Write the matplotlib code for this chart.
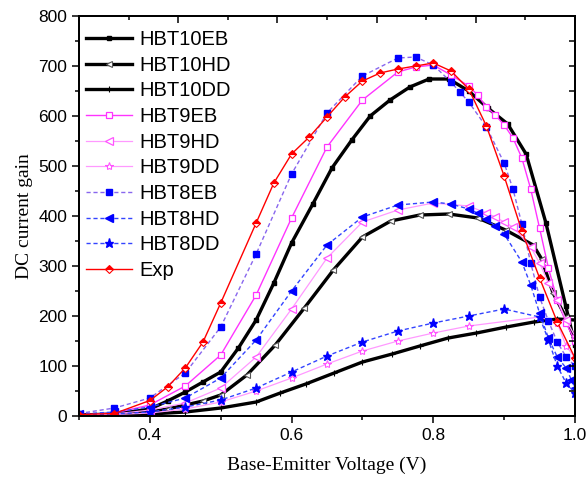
import matplotlib.pyplot as plt
from matplotlib.ticker import MultipleLocator, FixedLocator, NullFormatter

# data
v_10eb = [0.3, 0.35, 0.4, 0.425, 0.45, 0.475, 0.5, 0.525, 0.55, 0.575, 0.6, 0.63, 0.657, 0.685,
          0.711, 0.739, 0.767, 0.794, 0.822, 0.85, 0.877, 0.905, 0.931, 0.959, 0.987, 1.0]
g_10eb = [2, 4, 14, 30, 48, 68, 88, 136, 192, 266, 346, 424, 496, 552,
          600, 632, 658, 674, 674, 650, 616, 584, 524, 386, 220, 142]

v_10hd = [0.3, 0.35, 0.4, 0.425, 0.45, 0.475, 0.5, 0.537, 0.577, 0.618, 0.659, 0.7, 0.74,
          0.781, 0.822, 0.863, 0.902, 0.941, 0.953, 0.969, 0.987, 1.0]
g_10hd = [1, 3, 8, 14, 22, 30, 42, 82, 142, 216, 292, 358, 390,
          402, 404, 396, 372, 342, 314, 246, 198, 150]

v_10dd = [0.3, 0.35, 0.4, 0.45, 0.5, 0.55, 0.584, 0.62, 0.66, 0.7, 0.742, 0.781, 0.821,
          0.861, 0.903, 0.942, 0.975, 1.0]
g_10dd = [1, 2, 4, 8, 16, 28, 46, 64, 86, 108, 124, 140, 156, 166, 178, 188, 194, 192]

v_9eb = [0.3, 0.35, 0.4, 0.45, 0.5, 0.55, 0.6, 0.65, 0.7, 0.75, 0.775, 0.8, 0.825, 0.85, 0.8625,
         0.875, 0.8875, 0.9, 0.9125, 0.925, 0.9375, 0.95, 0.9625, 0.975, 0.9875, 1.0]
g_9eb = [2, 6, 22, 60, 122, 242, 396, 538, 632, 688, 698, 702, 682, 660, 642,
         618, 602, 582, 556, 516, 454, 376, 296, 232, 186, 150]

v_9hd = [0.3, 0.35, 0.4, 0.45, 0.5, 0.55, 0.6, 0.65, 0.7, 0.75, 0.8, 0.85, 0.875, 0.8875,
         0.9, 0.9125, 0.9375, 0.95, 0.9625, 0.975, 0.9875, 1.0]
g_9hd = [2, 4, 12, 26, 56, 118, 214, 316, 388, 412, 426, 420, 406, 398,
         388, 378, 338, 306, 266, 232, 192, 160]

v_9dd = [0.3, 0.35, 0.4, 0.45, 0.5, 0.55, 0.6, 0.65, 0.7, 0.75, 0.8, 0.85, 0.95, 0.975, 0.9875, 1.0]
g_9dd = [1, 3, 6, 14, 28, 50, 76, 104, 130, 150, 166, 180, 198, 186, 140, 116]

v_8eb = [0.3, 0.35, 0.4, 0.45, 0.5, 0.55, 0.6, 0.65, 0.7, 0.75, 0.775, 0.8, 0.825, 0.8375, 0.85,
         0.875, 0.9, 0.9125, 0.925, 0.9375, 0.95, 0.9625, 0.975, 0.9875, 1.0]
g_8eb = [5, 16, 36, 86, 178, 324, 484, 606, 680, 716, 718, 702, 668, 648, 628,
         578, 506, 454, 384, 306, 238, 190, 148, 118, 100]

v_8hd = [0.3, 0.35, 0.4, 0.45, 0.5, 0.55, 0.6, 0.65, 0.7, 0.75, 0.8, 0.825, 0.85, 0.8625, 0.875,
         0.8875, 0.9, 0.925, 0.9375, 0.95, 0.9625, 0.975, 0.9875, 0.995, 1.0]
g_8hd = [4, 8, 18, 36, 76, 152, 250, 342, 398, 422, 428, 424, 414, 406, 394,
         380, 364, 308, 262, 206, 156, 118, 96, 72, 56]

v_8dd = [0.3, 0.35, 0.4, 0.45, 0.5, 0.55, 0.6, 0.65, 0.7, 0.75, 0.8, 0.85, 0.9, 0.95, 0.9625,
         0.975, 0.9875, 1.0]
g_8dd = [2, 4, 8, 18, 32, 56, 88, 120, 148, 170, 186, 200, 214, 198, 152, 100, 66, 46]

v_exp = [0.3, 0.35, 0.4, 0.425, 0.45, 0.475, 0.5, 0.55, 0.575, 0.6, 0.625, 0.65, 0.675, 0.7,
         0.725, 0.75, 0.775, 0.8, 0.825, 0.85, 0.875, 0.9, 0.925, 0.95, 0.975, 1.0]
g_exp = [3, 5, 31, 58, 96, 148, 226, 386, 466, 524, 558, 598, 638, 670,
         686, 694, 700, 706, 690, 654, 580, 480, 370, 276, 188, 116]

fig = plt.figure(figsize=(5.86, 4.82), dpi=100)
ax = fig.add_axes([0.1348, 0.1369, 0.8464, 0.8299])

blk = dict(color='black', lw=2.4)
ax.plot(v_10eb, g_10eb, marker='s', ms=3, mfc='black', mec='black', label='HBT10EB', **blk)
ax.plot(v_10hd, g_10hd, marker='<', ms=4.5, mfc='white', mec='#555555', mew=0.8, label='HBT10HD', **blk)
ax.plot(v_10dd, g_10dd, marker='+', ms=4, mec='black', mew=0.8, label='HBT10DD', **blk)

ax.plot(v_9eb, g_9eb, color='#ff33ff', lw=1.0, marker='s', ms=5, mfc='white', mec='#ff33ff',
        mew=0.9, label='HBT9EB')
ax.plot(v_9hd, g_9hd, color='#ff99ff', lw=0.9, marker='<', ms=6, mfc='white', mec='#ff55ff',
        mew=0.9, label='HBT9HD')
ax.plot(v_9dd, g_9dd, color='#ff99ff', lw=0.9, marker='*', ms=6, mfc='white', mec='#ff55ff',
        mew=0.8, label='HBT9DD')

ax.plot(v_8eb, g_8eb, color='#8866ee', lw=1.0, ls=(0, (3, 2)), marker='s', ms=5, mfc='#0000ff',
        mec='#0000ff', label='HBT8EB')
ax.plot(v_8hd, g_8hd, color='#3344ff', lw=1.0, ls=(0, (3, 2)), marker='<', ms=6, mfc='#0000ff',
        mec='#0000ff', label='HBT8HD')
ax.plot(v_8dd, g_8dd, color='#3344ff', lw=1.0, ls=(0, (3, 2)), marker='*', ms=6.5, mfc='#0000ff',
        mec='#0000ff', label='HBT8DD')

ax.plot(v_exp, g_exp, color='#ff0000', lw=1.0, marker='D', ms=4, fillstyle='top', mfc='#ff0000',
        mfcalt='white', mec='#ff0000', mew=0.8, label='Exp')

ax.set_xlim(0.3, 1.0)
ax.set_ylim(0, 800)
ax.xaxis.set_major_locator(FixedLocator([0.4, 0.6, 0.8, 1.0]))
ax.xaxis.set_minor_locator(FixedLocator([0.3, 0.5, 0.7, 0.9]))
ax.yaxis.set_major_locator(MultipleLocator(100))
ax.yaxis.set_minor_locator(MultipleLocator(50))
ax.tick_params(which='both', direction='out', width=1.1, labelsize=12.5)
ax.tick_params(which='major', length=5)
ax.tick_params(which='minor', length=3)
for lab in ax.get_xticklabels() + ax.get_yticklabels():
    lab.set_family('Liberation Sans')
ax.xaxis.set_major_formatter(plt.FuncFormatter(lambda x, p: '%.1f' % x))

# mirrored top / right frame ticks
top = ax.twiny()
top.set_xlim(0, 1)
top.xaxis.set_major_locator(FixedLocator([0.2, 0.4, 0.6, 0.8]))
top.xaxis.set_minor_locator(FixedLocator([0.1, 0.3, 0.5, 0.7, 0.9]))
top.xaxis.set_major_formatter(NullFormatter())
top.tick_params(which='both', direction='in', width=1.1)
top.tick_params(which='major', length=5)
top.tick_params(which='minor', length=3)
right = ax.twinx()
right.set_ylim(0, 800)
right.yaxis.set_major_locator(MultipleLocator(50))
right.yaxis.set_major_formatter(NullFormatter())
right.tick_params(direction='in', width=1.1, length=4)

for a in (ax, top, right):
    for s in a.spines.values():
        s.set_linewidth(1.2)

ax.set_xlabel('Base-Emitter Voltage (V)', family='Liberation Serif', fontsize=14, labelpad=10)
ax.set_ylabel('DC current gain', family='Liberation Serif', fontsize=14, labelpad=4)

ax.legend(loc='upper left', bbox_to_anchor=(-0.014, 1.0), frameon=False,
          prop={'family': 'Liberation Sans', 'size': 14.5},
          handlelength=2.3, handletextpad=0.35, labelspacing=0.33, borderaxespad=0.5,
          borderpad=0.2)

fig.savefig('out.png', dpi=100)
